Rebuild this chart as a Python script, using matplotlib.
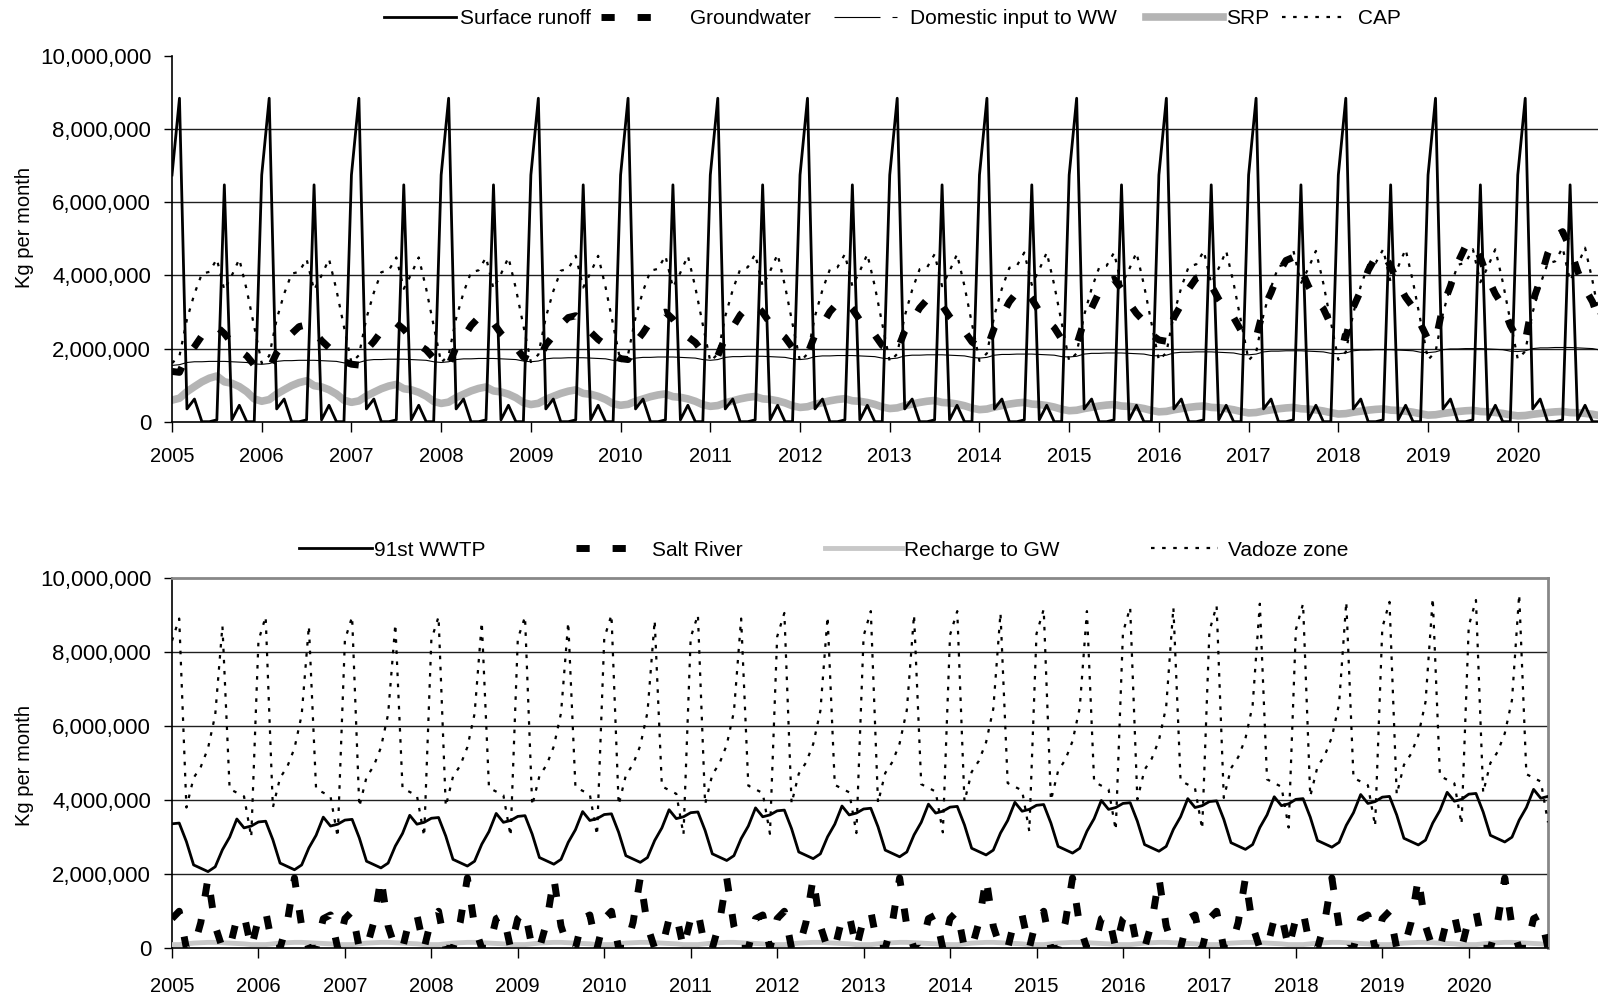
import numpy as np
import matplotlib.pyplot as plt
from matplotlib.ticker import FuncFormatter, FixedLocator
from matplotlib.lines import Line2D

plt.rcParams['font.family'] = ['Liberation Sans', 'DejaVu Sans']

years = list(range(2005, 2021))

# ---- top panel (values in million kg per month) ----
# surface runoff repeats the same monthly pattern every year
runoff_month = [6.75, 8.85, 0.35, 0.62, 0.0, 0.0, 0.05, 6.48, 0.05, 0.45, 0.0, 0.0]

domestic_year = [1.62, 1.65, 1.68, 1.70, 1.72, 1.74, 1.76, 1.78,
                 1.80, 1.82, 1.85, 1.88, 1.91, 1.94, 1.97, 2.00]
domestic_month = [-0.08, -0.06, 0.0, 0.02, 0.02, 0.03, 0.03, 0.03, 0.02, 0.01, 0.0, -0.04]

srp_low = [0.59, 0.56, 0.53, 0.50, 0.47, 0.45, 0.42, 0.39,
           0.36, 0.33, 0.30, 0.27, 0.24, 0.21, 0.18, 0.16]
srp_peak = [1.25, 1.12, 1.02, 0.95, 0.87, 0.76, 0.69, 0.63,
            0.58, 0.53, 0.47, 0.43, 0.39, 0.35, 0.31, 0.28]
srp_shape = [0.0, 0.08, 0.35, 0.56, 0.76, 0.91, 1.0, 0.76, 0.70, 0.56, 0.35, 0.05]

cap_month = [1.6, 1.8, 2.8, 3.5, 4.05, 4.1, 4.45, 3.6, 4.0, 4.45, 3.6, 2.6]
cap_year = [1.00, 1.00, 1.01, 1.01, 1.02, 1.02, 1.03, 1.03,
            1.03, 1.04, 1.04, 1.05, 1.05, 1.06, 1.06, 1.07]

gw_low = [1.35, 1.45, 1.55, 1.55, 1.65, 1.70, 1.80, 1.85,
          1.95, 2.00, 2.10, 2.20, 2.30, 2.30, 2.20, 2.20]
gw_peak = [2.60, 2.65, 2.70, 2.90, 2.90, 3.00, 3.20, 3.30,
           3.40, 3.60, 3.90, 4.00, 4.50, 4.60, 4.90, 5.20]
gw_shape = [0.02, 0.0, 0.36, 0.56, 0.8, 0.96, 1.0, 0.85, 0.64, 0.48, 0.36, 0.16]

# ---- bottom panel ----
wwtp_month = [3.36, 3.38, 2.88, 2.25, 2.16, 2.07, 2.20, 2.66, 3.00, 3.49, 3.25, 3.30]
wwtp_year = [0.0, 0.05, 0.10, 0.15, 0.20, 0.25, 0.30, 0.35,
             0.40, 0.45, 0.50, 0.55, 0.60, 0.66, 0.72, 0.80]

salt_month = [0.8, 1.0, 0.0, 0.0, 0.7, 1.9, 0.6, 0.0, 0.0, 0.8, 0.9, 0.0]

recharge_month = [0.10, 0.10, 0.12, 0.14, 0.15, 0.16, 0.16, 0.15, 0.14, 0.13, 0.12, 0.10]

# vadoze zone: two peaks a year (Feb and Aug), other months from a base pattern
vadoze_month = [8.3, 0.0, 3.8, 4.6, 4.9, 5.4, 6.3, 0.0, 4.3, 4.2, 4.1, 3.0]
vadoze_year = [0.0, 0.0, 0.02, 0.03, 0.05, 0.07, 0.09, 0.11,
               0.13, 0.16, 0.19, 0.22, 0.26, 0.30, 0.35, 0.40]
vadoze_feb = [8.90, 8.95, 8.95, 8.95, 8.95, 9.00, 9.00, 9.05,
              9.10, 9.10, 9.15, 9.20, 9.25, 9.30, 9.35, 9.40]
vadoze_aug = [8.70, 8.70, 8.75, 8.80, 8.80, 8.85, 8.90, 8.95,
              9.00, 9.05, 9.10, 9.20, 9.30, 9.35, 9.45, 9.55]


def build(month_vals, year_add=None, year_mul=None):
    out = []
    for i in range(len(years)):
        for m in range(12):
            v = month_vals[m]
            if year_mul is not None:
                v = v * year_mul[i]
            if year_add is not None:
                v = v + year_add[i]
            out.append(v * 1e6)
    return np.array(out)


def build_range(low, peak, shape):
    out = []
    for i in range(len(years)):
        for m in range(12):
            out.append((low[i] + (peak[i] - low[i]) * shape[m]) * 1e6)
    return np.array(out)


t = np.arange(len(years) * 12)
runoff = build(runoff_month)
domestic = build(domestic_month, year_add=domestic_year)
srp = build_range(srp_low, srp_peak, srp_shape)
cap = build(cap_month, year_mul=cap_year)
gw = build_range(gw_low, gw_peak, gw_shape)

wwtp = build(wwtp_month, year_add=wwtp_year)
salt = build(salt_month)
recharge = build(recharge_month)
vadoze = build(vadoze_month, year_add=vadoze_year)
vadoze[1::12] = np.array(vadoze_feb) * 1e6
vadoze[7::12] = np.array(vadoze_aug) * 1e6

fig = plt.figure(figsize=(15.98, 10.01), dpi=100)
W, H = 1598.0, 1001.0

ax1 = fig.add_axes([172 / W, 1 - 421.7 / H, 1428 / W, 365.5 / H])
ax2 = fig.add_axes([172 / W, 1 - 948.3 / H, 1376 / W, 370.5 / H])

thick_dash = (0, (1.9, 3.3))
dots = (0, (1.6, 3.4))

s_runoff = dict(color='black', lw=2.0)
s_gw = dict(color='black', lw=5.0, linestyle=thick_dash)
s_dom = dict(color='black', lw=0.8)
s_srp = dict(color='#b4b4b4', lw=5.5)
s_cap = dict(color='black', lw=1.6, linestyle=dots)
s_rech = dict(color='#c8c8c8', lw=3.5)

# top
ax1.plot(t, runoff, zorder=5, **s_runoff)
ax1.plot(t, gw, zorder=4, **s_gw)
ax1.plot(t, domestic, zorder=3, **s_dom)
ax1.plot(t, srp, zorder=2, **s_srp)
ax1.plot(t, cap, zorder=4, **s_cap)

# bottom
ax2.plot(t, wwtp, zorder=5, **s_runoff)
ax2.plot(t, salt, zorder=4, **s_gw)
ax2.plot(t, recharge, zorder=3, **s_rech)
ax2.plot(t, vadoze, zorder=4, **s_cap)

fmt = FuncFormatter(lambda v, p: '{:,.0f}'.format(v))
for ax, xpad in ((ax1, 11), (ax2, 14)):
    ax.set_xlim(0, 191)
    ax.set_ylim(0, 10e6)
    ax.yaxis.set_major_locator(FixedLocator([0, 2e6, 4e6, 6e6, 8e6, 10e6]))
    ax.yaxis.set_major_formatter(fmt)
    ax.set_xticks(np.arange(0, 192, 12))
    ax.set_xticklabels([str(y) for y in years])
    ax.tick_params(axis='y', direction='out', length=6, width=1, pad=9, labelsize=16)
    ax.tick_params(axis='x', direction='out', length=7, width=1, pad=xpad, labelsize=14.5)
    for g in [2e6, 4e6, 6e6, 8e6]:
        ax.axhline(g, color='#202020', lw=1.0, zorder=1)
    ax.spines['left'].set_color('black')
    ax.spines['bottom'].set_color('black')
    ax.spines['left'].set_linewidth(1.2)
    ax.spines['bottom'].set_linewidth(1.2)

ax1.spines['top'].set_visible(False)
ax1.spines['right'].set_visible(False)
ax2.spines['top'].set_color('#888888')
ax2.spines['right'].set_color('#888888')
ax2.spines['top'].set_linewidth(2)
ax2.spines['right'].set_linewidth(2)

fig.text(25 / W, 0.773, 'Kg per month', rotation=90, va='center', ha='center', fontsize=14.5)
fig.text(25 / W, 0.2348, 'Kg per month', rotation=90, va='center', ha='center', fontsize=14.5)

# legend entries placed one by one: (style, label, handle start px, handle end px, text start px)
FS = 15
fs_px = FS * 100 / 72.0
dom_handle = dict(color='black', lw=0.8, linestyle=(0, (41.4, 10.8, 5.4, 60)))
top_entries = [
    (s_runoff, 'Surface runoff', 384, 456, 460),
    (s_gw, 'Groundwater', 601, 673, 690),
    (dom_handle, 'Domestic input to WW', 834, 897, 910),
    (s_srp, 'SRP', 1146, 1223, 1226),
    (s_cap, 'CAP', 1282, 1345, 1358),
]
bottom_entries = [
    (s_runoff, '91st WWTP', 299, 372, 374),
    (s_gw, 'Salt River', 576, 637, 652),
    (s_rech, 'Recharge to GW', 825, 902, 904),
    (s_cap, 'Vadoze zone', 1151, 1218, 1228),
]
for entries, ypx in ((top_entries, 18.5), (bottom_entries, 550)):
    for style, label, x0, x1, xt in entries:
        h = Line2D([], [], **style)
        fig.legend([h], [label], loc='center left', bbox_to_anchor=(x0 / W, 1 - ypx / H),
                   frameon=False, fontsize=FS, handlelength=(x1 - x0) / fs_px,
                   handletextpad=(xt - x1) / fs_px, borderpad=0, borderaxespad=0)

fig.savefig('out.png', dpi=100)
